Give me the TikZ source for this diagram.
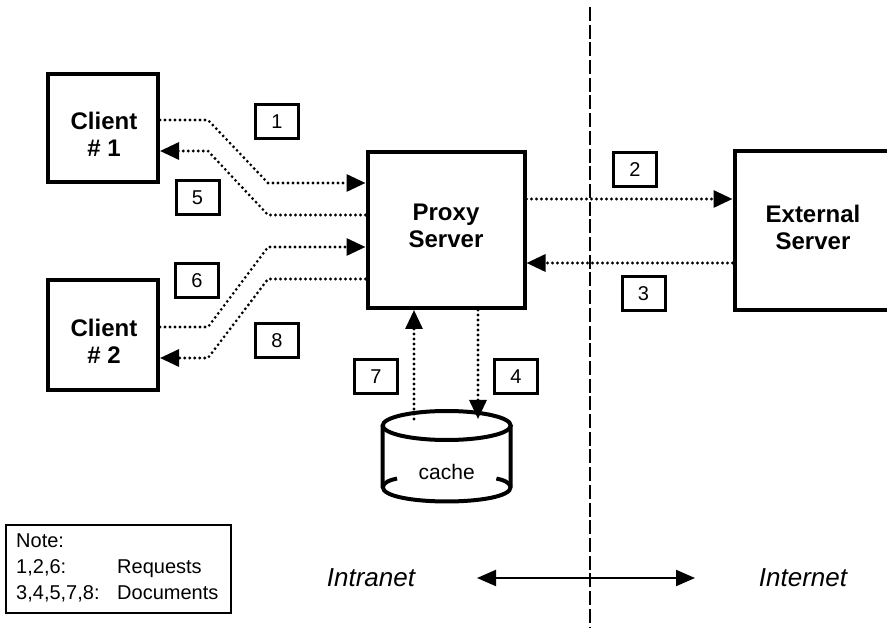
\documentclass[tikz,border=0pt]{standalone}
\usepackage{fontspec}
\setmainfont{Liberation Sans}
\usetikzlibrary{arrows.meta}
\begin{document}
\begin{tikzpicture}[x=1pt,y=-1pt,
  bigbox/.style={draw, line width=4pt, rectangle, inner sep=0pt},
  boxtext/.style={align=center, inner sep=0pt, font=\fontsize{24}{27}\selectfont\bfseries},
  numbox/.style={draw, line width=3pt, rectangle, inner sep=0pt,
    minimum width=43pt, minimum height=34pt, font=\fontsize{20}{24}\selectfont},
  dotarrow/.style={line width=3.1pt, dash pattern=on 0pt off 5pt, line cap=round,
    -{Triangle[length=19pt,width=17pt]}},
  notetext/.style={font=\fontsize{20}{24}\selectfont, inner sep=0pt, anchor=base west},
  region/.style={font=\fontsize{26}{30}\selectfont\itshape, inner sep=0pt},
  cyl/.style={line width=4pt}
]
\useasboundingbox (0,0) rectangle (887,628);
\clip (0,0) rectangle (887,628);

% boxes
\node[bigbox, minimum width=110pt, minimum height=108pt] (client1) at (103,128) {};
\node[bigbox, minimum width=110pt, minimum height=110pt] (client2) at (103,335) {};
\node[bigbox, minimum width=157pt, minimum height=156pt] (proxy) at (446,230) {};
\node[bigbox, minimum width=157pt, minimum height=159pt] (ext) at (813,231) {};
\node[boxtext] (client1t) at (104,134) {Client\\\# 1};
\node[boxtext] (client2t) at (104,341) {Client\\\# 2};
\node[boxtext] (proxyt) at (446,226) {Proxy\\Server};
\node[boxtext] (extt) at (813,227) {External\\Server};

% number labels
\node[numbox] (n1) at (277,121.5) {1};
\node[numbox] (n5) at (197.5,197.5) {5};
\node[numbox] (n6) at (197,280.5) {6};
\node[numbox] (n8) at (277,341) {8};
\node[numbox] (n7) at (376,376.5) {7};
\node[numbox] (n4) at (516,376.5) {4};
\node[numbox] (n2) at (635,169.5) {2};
\node[numbox] (n3) at (643.5,294) {3};

% cache cylinder
\draw[cyl] (446.7,425.5) ellipse [x radius=64, y radius=14.5];
\draw[cyl] (382.7,425.5) -- (382.7,487) .. controls (382.7,506.3) and (510.7,506.3) .. (510.7,487) -- (510.7,425.5);
\draw[cyl] (382.7,487) .. controls (384,482) and (390,480) .. (397,478.5);
\draw[cyl] (510.7,487) .. controls (509.4,482) and (503.4,480) .. (496.4,478.5);
\node[font=\fontsize{21}{24}\selectfont, inner sep=0pt] (cache) at (446.7,472) {cache};
\coordinate (cachetop) at (446.7,419);

% dotted connectors
\draw[dotarrow] (client1.east |- 0,120) -- (208,120) -- (268,183) -- (proxy.west |- 0,183);
\draw[dotarrow] (proxy.west |- 0,215) -- (268,215) -- (208,151) -- (client1.east |- 0,151);
\draw[dotarrow] (client2.east |- 0,327) -- (208,327) -- (268,247) -- (proxy.west |- 0,247);
\draw[dotarrow] (proxy.west |- 0,279) -- (268,279) -- (208,358) -- (client2.east |- 0,358);
\draw[dotarrow] (proxy.east |- 0,199) -- (ext.west |- 0,199);
\draw[dotarrow] (ext.west |- 0,263) -- (proxy.east |- 0,263);
\draw[dotarrow] (cachetop -| 414,0) -- (proxy.south -| 414,0);
\draw[dotarrow] (proxy.south -| 478,0) -- (cachetop -| 478,0);

% boundary
\draw[line width=1.3pt, dash pattern=on 14pt off 3.7pt] (590,7) -- (590,628);

% intranet / internet
\node[region] (intra) at (371,578) {Intranet};
\node[region] (inter) at (803,578) {Internet};
\coordinate (la) at (477,578);
\coordinate (ra) at (695,578);
\draw[line width=2pt, {Triangle[length=19pt,width=16pt]}-{Triangle[length=19pt,width=16pt]}] (la) -- (ra);

% note
\node[draw, line width=1.2pt, minimum width=225pt, minimum height=88pt, inner sep=0pt] (note) at (118.5,569) {};
\node[notetext] (nt0) at (16,547) {Note:};
\node[notetext] (nt1) at (16,573) {1,2,6:};
\node[notetext] (nt2) at (117,573) {Requests};
\node[notetext] (nt3) at (16,599) {3,4,5,7,8:};
\node[notetext] (nt4) at (117,599) {Documents};
\end{tikzpicture}
\end{document}
